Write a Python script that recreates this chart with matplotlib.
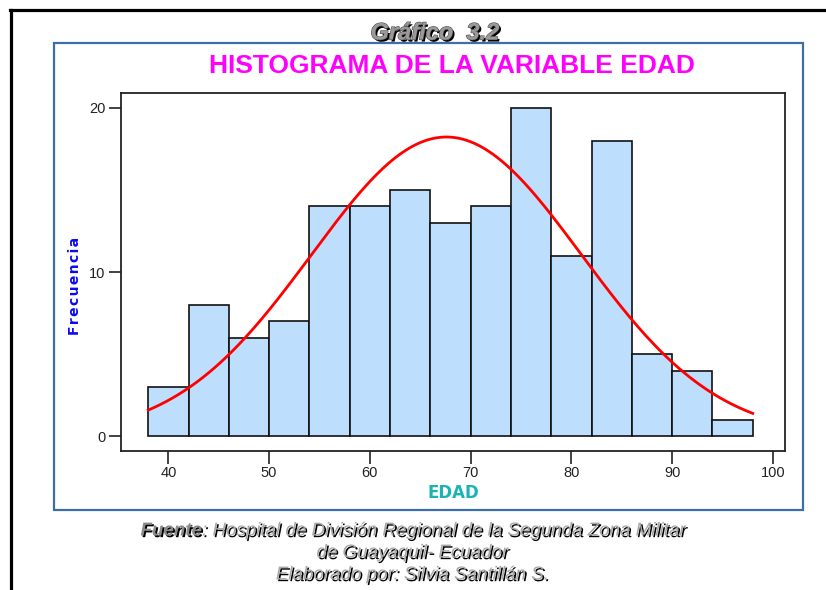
import matplotlib
matplotlib.use("Agg")
import matplotlib.pyplot as plt
import matplotlib.patheffects as pe
from matplotlib.lines import Line2D
from matplotlib.patches import Rectangle
import numpy as np

plt.rcParams["font.family"] = ["Liberation Sans", "DejaVu Sans"]

# histogram data
bin_left = [38, 42, 46, 50, 54, 58, 62, 66, 70, 74, 78, 82, 86, 90, 94]
bin_width = 4
counts = [3, 8, 6, 7, 14, 14, 15, 13, 14, 20, 11, 18, 5, 4, 1]
x_ticks = [40, 50, 60, 70, 80, 90, 100]
y_ticks = [0, 10, 20]

# fitted normal curve parameters (estimated from the plotted curve)
fit_mean = 67.6
fit_sd = 13.4

title = "HISTOGRAMA DE LA VARIABLE EDAD"
chart_label = "Gráfico  3.2"
source_lines = [
    "de Guayaquil- Ecuador",
    "Elaborado por: Silvia Santillán S.",
]

fig = plt.figure(figsize=(8.26, 5.90), dpi=100)
W, H = 826, 590


def fx(px):
    return px / W


def fy(py):
    return 1 - py / H


# outer black frame (top and left only)
fig.add_artist(Line2D([fx(10), 1.0], [fy(10), fy(10)], color="black", lw=2.3,
                      transform=fig.transFigure))
fig.add_artist(Line2D([fx(11), fx(11)], [0.0, fy(10)], color="black", lw=2.3,
                      transform=fig.transFigure))

# blue inner box
fig.add_artist(Rectangle((fx(54), fy(510)), fx(803) - fx(54), fy(43) - fy(510),
                         fill=False, edgecolor="#3C6EA8", lw=1.6,
                         transform=fig.transFigure))

ax = fig.add_axes([fx(121), fy(451), fx(785) - fx(121), fy(93) - fy(451)])
ax.bar(bin_left, counts, width=bin_width, align="edge", color="#BDDFFD",
       edgecolor="#111111", linewidth=1.2, zorder=2)

n = sum(counts)
xs = np.linspace(bin_left[0], bin_left[-1] + bin_width, 300)
curve = n * bin_width * np.exp(-0.5 * ((xs - fit_mean) / fit_sd) ** 2) / (fit_sd * np.sqrt(2 * np.pi))
ax.plot(xs, curve, color="#FF0000", lw=2.0, zorder=3)

ax.set_xlim(35.3, 101.2)
ax.set_ylim(-0.9, 20.9)
ax.set_xticks(x_ticks)
ax.set_yticks(y_ticks)
ax.tick_params(direction="out", length=9, width=1.2, labelsize=10.5,
               colors="#222222", pad=2)
for spine in ax.spines.values():
    spine.set_linewidth(1.3)
    spine.set_color("#222222")

ax.set_xlabel("EDAD", color="#1BB3B3", fontweight="bold", fontsize=12, labelpad=3,
              family=["DejaVu Sans"])
fig.text(fx(75), fy(286), "F r e c u e n c i a".replace(" ", "\u200a"), rotation=90,
         color="#0A0AF0", fontweight="bold", fontsize=10, ha="center", va="center",
         family=["DejaVu Sans"])

fig.text(fx(452), fy(66), title, color="#FF00FF", fontweight="bold",
         fontsize=19, ha="center", va="center")

shadow = [pe.SimplePatchShadow(offset=(1.5, -1.5), shadow_rgbFace="black", alpha=1.0),
          pe.Stroke(linewidth=0.9, foreground="#555555"), pe.Normal()]
fig.text(fx(435), fy(33), chart_label, color="#9A9A9A", fontweight="bold",
         fontstyle="italic", fontsize=17, ha="center", va="center",
         path_effects=shadow)

foot_shadow = [pe.SimplePatchShadow(offset=(1.2, -1.2), shadow_rgbFace="black", alpha=1.0),
               pe.Normal()]
fig.text(fx(202), fy(531), "Fuente", color="#8A8A8A", fontweight="bold",
         fontstyle="italic", fontsize=13.5, ha="right", va="center",
         path_effects=foot_shadow)
fig.text(fx(202), fy(531), ": Hospital de División Regional de la Segunda Zona Militar",
         color="#A8A8A8", fontstyle="italic", fontsize=13.5, ha="left", va="center",
         path_effects=foot_shadow)
for i, line in enumerate(source_lines):
    fig.text(fx(412), fy(553 + 22 * i), line, color="#A8A8A8", fontstyle="italic",
             fontsize=13.5, ha="center", va="center", path_effects=foot_shadow)

fig.savefig("out.png", dpi=100)
